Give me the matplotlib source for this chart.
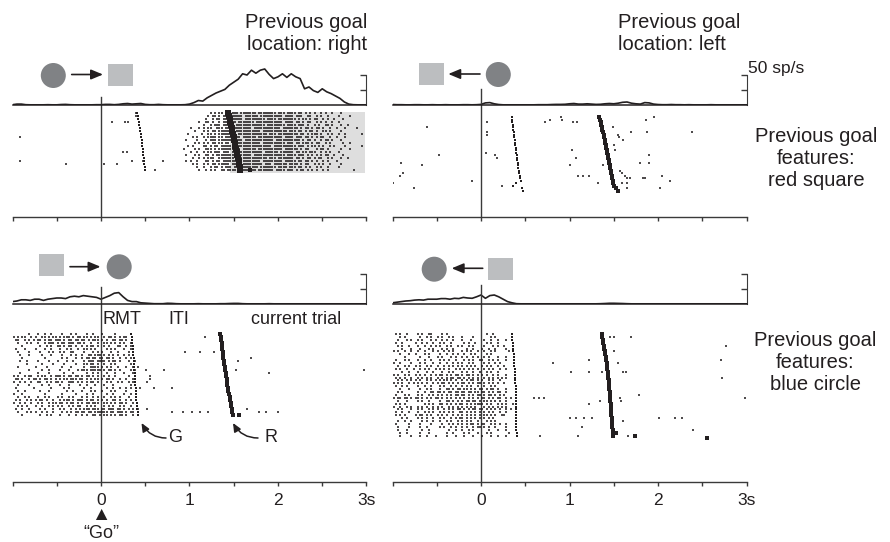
import numpy as np
import matplotlib
matplotlib.use('Agg')
import matplotlib.pyplot as plt
from matplotlib.patches import Circle, Rectangle

plt.rcParams['font.family'] = ['Liberation Sans', 'DejaVu Sans']

INK = '#231f20'
AXC = '#3a3a3a'
DARK = '#808285'
LIGHT = '#bcbec0'
W, H = 890, 542

# ---------------- data ----------------
# PSTH bin centres (s) and firing rates (sp/s)
psth_t = np.linspace(-1.0, 3.0, 81)

tl_rate = [0.5, 1.5, 1.5, 0.5, 0.3, 0.3, 0.3, 0.3, 0.5, 0.3,
           0.3, 0.8, 1.0, 0.5, 0.3, 0.3, 0.3, 0.3, 0.3, 0.5,
           0.5, 1.0, 1.0, 0.5, 1.0, 2.0, 2.5, 1.5, 2.0, 2.5,
           1.0, 0.5, 0.5, 1.0, 0.5, 0.3, 0.3, 0.3, 0.3, 0.5,
           1.5, 4, 7.5, 6.5, 12, 16, 20, 23, 26, 33,
           38, 43, 52, 50, 58, 53, 58, 60, 51, 44,
           47, 52, 46, 52, 47, 44, 27, 30, 24, 21,
           27, 22, 19, 15, 11, 5, 1.5, 0.5, 0.3, 0.3, 0.3]

tr_rate = [0.8, 0.5, 0.5, 0.3, 0.3, 0.5, 0.5, 0.3, 0.3, 0.5,
           0.3, 0.3, 0.5, 0.3, 0.3, 0.3, 0.5, 0.5, 0.3, 0.5,
           1.0, 3.5, 4.0, 2.0, 0.8, 0.3, 0.3, 0.3, 0.3, 0.3,
           0.3, 0.3, 0.3, 0.5, 0.5, 0.5, 0.8, 1.0, 1.0, 1.2,
           2.0, 2.5, 1.5, 1.5, 2.0, 1.5, 1.0, 1.2, 2.0, 2.5,
           2.0, 3.0, 4.5, 5.0, 3.0, 2.0, 1.5, 4.0, 3.5, 1.5,
           0.8, 0.5, 0.5, 0.8, 0.5, 0.5, 0.3, 0.5, 0.3, 0.3,
           0.3, 0.3, 0.5, 0.3, 0.3, 0.3, 0.3, 0.3, 0.3, 0.3, 0.3]

bl_rate = [4, 5, 7, 7, 6, 8, 8, 6, 8, 9,
           10, 10, 9, 12, 13, 12, 14, 13, 12, 11,
           8, 11, 14, 18, 19, 12, 6, 4, 4, 2,
           1.5, 1, 0.5, 0.5, 0.5, 1.2, 1.0, 0.5, 0.3, 0.3,
           0.3, 0.3, 0.5, 0.3, 0.3, 0.3, 0.3, 0.5, 0.5, 0.8,
           1.0, 1.0, 0.5, 0.3, 0.3, 0.3, 0.3, 0.3, 0.5, 0.3,
           0.3, 0.3, 0.3, 0.3, 0.3, 0.3, 0.3, 0.3, 0.3, 0.3,
           0.3, 0.3, 0.3, 0.3, 0.3, 0.3, 0.3, 0.3, 0.3, 0.3, 0.3]

br_rate = [2, 3, 4, 5, 5.5, 6.5, 7, 6.5, 8, 8,
           8, 9, 9, 8, 9.5, 9, 11, 10, 9.5, 12,
           15, 9.5, 14, 15, 12, 8, 4, 2, 0.5, 0.3,
           0.3, 0.3, 0.3, 0.3, 0.3, 0.3, 0.3, 0.3, 0.3, 0.3,
           0.3, 0.3, 0.3, 0.3, 0.3, 0.3, 0.3, 0.5, 0.8, 1.2,
           1.2, 1.0, 0.8, 0.5, 0.3, 0.3, 0.3, 0.3, 0.3, 0.3,
           0.3, 0.3, 0.3, 0.3, 0.3, 0.3, 0.3, 0.3, 0.3, 0.3,
           0.3, 0.3, 0.3, 0.3, 0.3, 0.3, 0.3, 0.3, 0.3, 0.3, 0.3]

# goal (G) and reward (R) times per trial, s
tl_goal = [0.412, 0.416, 0.422, 0.428, 0.434, 0.440, 0.445, 0.451, 0.455, 0.458,
           0.462, 0.467, 0.472, 0.476, 0.479, 0.482, 0.486, 0.489, 0.493, 0.497]
tl_reward = [1.440, 1.447, 1.454, 1.462, 1.470, 1.477, 1.484, 1.491, 1.498, 1.505,
             1.512, 1.519, 1.526, 1.533, 1.540, 1.547, 1.554, 1.561, 1.568, 1.576]
tr_goal = [0.347, 0.350, 0.354, 0.357, 0.361, 0.364, 0.368, 0.372, 0.375, 0.379,
           0.383, 0.387, 0.391, 0.395, 0.399, 0.403, 0.407, 0.411, 0.415, 0.419,
           0.423, 0.428, 0.433, 0.438, 0.443, 0.449, 0.400, 0.365, 0.460, 0.480]
tr_reward = [1.337, 1.345, 1.352, 1.358, 1.365, 1.372, 1.379, 1.385, 1.392, 1.398,
             1.404, 1.410, 1.416, 1.422, 1.428, 1.435, 1.440, 1.445, 1.450, 1.455,
             1.460, 1.465, 1.471, 1.477, 1.484, 1.490, 1.497, 1.508, 1.525, 1.548]
bl_goal = [0.343, 0.347, 0.350, 0.353, 0.356, 0.359, 0.362, 0.365, 0.368, 0.371,
           0.374, 0.376, 0.378, 0.380, 0.382, 0.384, 0.386, 0.388, 0.390, 0.392,
           0.394, 0.397, 0.400, 0.403, 0.406, 0.409, 0.414, 0.420]
bl_reward = [1.350, 1.354, 1.358, 1.362, 1.366, 1.370, 1.374, 1.378, 1.382, 1.386,
             1.391, 1.396, 1.402, 1.408, 1.414, 1.419, 1.424, 1.429, 1.434, 1.438,
             1.445, 1.452, 1.458, 1.464, 1.470, 1.476, 1.483, 1.490]
br_goal = [0.347, 0.351, 0.355, 0.358, 0.361, 0.364, 0.367, 0.369, 0.371, 0.373,
           0.375, 0.377, 0.379, 0.381, 0.382, 0.384, 0.386, 0.388, 0.390, 0.392,
           0.394, 0.395, 0.396, 0.396, 0.396, 0.396, 0.396, 0.396, 0.397, 0.397,
           0.398, 0.398, 0.399, 0.400, 0.402, 0.410]
br_reward = [1.362, 1.369, 1.376, 1.383, 1.390, 1.395, 1.400, 1.405, 1.410, 1.415,
             1.420, 1.424, 1.427, 1.431, 1.434, 1.438, 1.441, 1.444, 1.448, 1.451,
             1.455, 1.458, 1.460, 1.462, 1.464, 1.466, 1.468, 1.470, 1.473, 1.476,
             1.479, 1.482, 1.485, 1.488, 1.490, 1.492]

# dense spike blocks: one row per trial, 25 ms bins, groups of 0.25 s
tl_block_start = 0.9
tl_block = [
    ".......... ...|.|.||. ||.|||.||| ||||.||||| |||.|||.|| ||.||.|.|. |..|.|..|. ..|.......",
    ".......... ..|.||.|.| |.||||||.| |||||.|||| ||||||.||| |.|||..||. .|.|..|... .|....|...",
    ".......... .|..|.||.| ||.|||||.| ||||||||.| |||.|||||| ||.|.||.|. ||..|.|..| ...|......",
    "........|. .||.|..|.| |||||.|||| |||.|||||| ||||||.||| |.||.|.||. .|.|.|..|. .|........",
    ".......... |..|.|||.| ||||.||||| ||||||||.| |||||||.|| ||.|||.|.. |.|..||.|. ..|..|....",
    "....|...|. |.||..|||. |||||||||| ||.||||||| |||||.|||| |||.|.||.| .||.|..|.. |...|....|",
    "......|... |.|.||.||| ||||.||||| ||||||.||| ||||||||.| ||.||.|.|| .|..||.|.. ..|.......",
    "...|.....| ..||.|.||| |||||.|||| |||||||||. |||.|||||| |||.||.|.| ||.|..|.|. .|..|.....",
    ".....|.|.. |.||||.||. |||||||.|| ||||.||||| ||||||.||| |.|||.||.| .|.||..|.. |...|.....",
    "..|....|.. .|.|||.||| ||||||||.| |||||||||| ||.||||||| ||||.|.||. |..|.||.|. ..|.......",
    "......|.|. |.|.||.||. ||.||||||| ||||||.||| |||||||.|| |.||.|||.| .||..|.|.. ...|..|...",
    "...|.|.... ||.|.||.|| |||||.|||| |||||||||| |.|||||||| ||.|||.|.| |.|.|..|.| ....|.....",
    ".|....|.|. .|||.|.||| |||||||.|| ||||.||||| ||||||.||| |||.|.||.. .|.||.|... ..|...|...",
    "....|..|.. |.||.|||.| ||.||||||| |||||||.|| ||||.||||| |.||.||.|| |..|.|.|.. .|........",
    "..|...|.|. .||.|.|||| |||||||||| ||.||||||| |||||||.|| ||.|||.|.| .|.|.||..| ...|......",
    ".....|..|. |.|||..||| ||||.||||| |||||||||. |||.|||||| |.||.|.||. |.||..|.|. ..|..|....",
    "..|.|..|.. .||.|.||.| |||||.|||| ||||||.||| ||||||.||| ||.||.||.| .|..|.|... |.........",
    ".....|.|.. |.|.||.||| ||.||||||| |||||||.|| |.||||||.| |||.|.||.. |.|.|..|.. ..|.......",
    ".......|.. |..|.||.|. |||.|||||| |||||.|||| |||.||||.| ||.||.|.|. .|.|..|... .|........",
    "........|. .|.|.|..|| .||||.|||| ||||.||||| ||.||||.|| |.|.||.|.| .|..|.|... ........|.",
]

bl_block_start = -1.0
bl_block = [
    ".......|.. .|..|..|.. ..|...|.|. ...|..|... |.....|... ..........",
    "|.|.||..|. |..||.|.|| .|.|||.|.| |.||.|.||. .|.||.|.|. ||........",
    ".||..|.|.| .||.|.||.| ||.|.||.|| .||.|.|||. |.|..||.|| .|........",
    "..|...|.|. .|..|.|||. |.||.|||.| |.|..|..|. .||.|.|.|. |..|......",
    "....|..... ..|..|.|.. ||.|.||.|. .|.|.||.|. .|.|...||. .|.|......",
    ".|...|.... |...|..|.. .|..|.|..| ..||.|.|.. ..|.|.|... |..|......",
    "..|....|.. ..|...|.|. .|.|..||.. ..|...|.|. |...|..|.. ..|.......",
    "...|...|.. ...|...|.. ..|...|.|. .|..||.||| .|.|.|.|.. |.|.......",
    "....|..... ....|..... ..|.|...|. .|.||.||.| |.||.|..|. .|.|......",
    "...|..|... .|....|... |...|..|.. ..|.|||.|| ||.|.||.|. ..|..|....",
    "......|... ...|....|. ...|....|. ..||.||.|. .|..|.|... ...|......",
    "..|....... |....|.... ..|...|... ..|..||||. |.|.|..|.. .|..|.|...",
    ".......|.. ...|..|... .|...|...| .|||.||||| .|.||.|.|. ...|.|....",
    "...|...... .|....|... ...|...|.. ...|..|.|. ..|...|... |...|.....",
    "|.|..|.||. .|.||..|.| ||.|.||.|| .|.||.|.|. .|.|..|... ..|.......",
    ".||.|..|.| |.|.||.|.| .|.||.|||. ||.|.|.||. |.||.|..|. .|..|.....",
    "|..|.|..|. .||..|.|.| |.|..|||.| .|.|.||.|. ..|.|..|.| ..|.|.....",
    "..|....|.. ...|..|... .|...|.... |..|...|.. .|...|.... ...|......",
    ".|.......| .......|.. ...|.|.... ..|..|.... ..|..|..|. .|.|...|..",
    "..|..|.... ..|...|... ....|..|.. .|...|.|.. |...|.|... .|........",
    "|...|..... ....|..... ..|.....|. ...|..|... ..|..|.... |..|......",
    "..|..|.|.. .|..|.|... |.|..|.|.. .|.|..|.|. .|..|.|.|. ..|.......",
    ".|.|..|.|. |.||.|..|. .|.|||.|.| ||.|.||.|. |.|..||.|. .|.|......",
    "|..|.|..|. .|.|..|.|| .||.|.||.| .|.||.|||. .||.|.|.|| .|..|.....",
    "..|.|.|... |..|..|.|. |.|..|.|.| |..|.|.|.. .|.|.|..|. |..|......",
    ".|..|..|.. ..|.|...|. .|.|..|.|. |.|||.|||. ||.|||.||. |.|.|.|...",
    "..|...|.|. |..|.|..|. ..|.|.|.|| .||.||.||| |||.||.||| .|.||.|...",
    "....|..... ..|..|.|.. .|...|..|. .|.|..||.| .||.|.|.|| .|..|.|...",
]

br_block_start = -1.0
br_block = [
    ".|.|..|... .|.|..||.. ..|.|..... .......... ..|..|.... ..........",
    "...|.|.... ..|..|.|.. |.|..|.|.. .|....|... ....|.|... ..........",
    "..|...|.|. .|.|...|.| ..|.|..|.. .|...|.... .|..|..|.. .|........",
    ".|..|..... |..|.|..|. .|.|..|... ..|.|..|.. ..|.|..|.. ..........",
    "..|.|..|.. .|..|..|.| .|..|.|..| .|..|.|... .|...|.|.. |.........",
    "....|...|. ..|...|.|. ..|.|..|.. ...|..|... |..|..|... .|........",
    "|.|..|..|. .|..|...|. |..|.|.|.. .|.|.|..|. .|..|.|... ..|.......",
    "...|...|.. |...|.|... .|..|..|.| ..|..|.|.. ..|.|..... ..........",
    ".....|.... ..|...|... |.|...|.|. .|.|..|.|. .|.|...|.. .|........",
    ".|...|.|.. .|..|..|.. .|.|.|..|. ..|.|.|..| |..|.|.|.. .|........",
    "|..|....|. ..|.|...|. .|..|..|.| .|..|.|... .|.|..|.|. ..........",
    "..|..|.|.. |.|..|.|.. |..|.|.|.| .|.|.|.|.. |.|.|..|.. |.........",
    ".|.|..|..| ..|.|.|..| .|.|.|..|. |.|.|.|.|. .|.|.|..|. .|........",
    "....|..|.. .|...|..|. ..|..|.|.. .|.|..|..| ..|.|..|.. ..........",
    "|.|..|.|.. |.|.|..|.| .||.|.|.|| .|.||.|.|. |.|..|.|.. .|........",
    ".|.|.|..|. .|.|.|.|.. |.|.|.||.| |.|.|.|.|. .|.|.|.|.| .|........",
    "..|.|.|.|. |.|..|.|.| .|.||.|.|. .|.|.||.|. |..|.|..|. ..........",
    "|.|.|..|.| .|.|.|..|. |.||.|.|.| .||.|.|.|| .|.|.|.|.. |.........",
    ".|..|.|... .|..|..|.. .|.|..|.|. .|.|.|..|. .|..|.|... ..........",
    "...|...|.. ..|..|.|.. .|..||.|.| |.||.|.|.| |.|.||.|.. .|........",
    "..|.|..... .|..|..||. ||.|.||.|| .||.||.||. ||.|.|.||. .|........",
    ".|...|.|.. .|.|..|.|. |.|.|.|.|| .||.|.|.|| .|.||.|.|. |.........",
    "|.||.||.|. ||.|.|.|.| |.|.|.|.|. |.|.|.|.|. ||.|.|.||. .|.|......",
    "..|...|... .|.|..|... .|..||.|.| .|.||.||.| .||.|.|.|. .|........",
    ".|.|.|.... ....|.|.|. .||.|.|.|. ||.|.|.||| |.|.|..|.| .|..|.....",
    "|..|..|.|. .|.|.|..|. |.|..|.|.| .|.|.|.|.. .|.|.|.|.| .|........",
    "..|.|...|. .|.|..|.|. |..|.|.|.| |.|.|.||.| |.|.|.|.|. .|.|......",
    ".|..|..|.. .|..|.|.|. .|.|.|.|.. ||.|.|.|.| .|.|.|..|. .|........",
    ".|.|.|.... |.||.|.|.. |.|.|..|.| .|.|.|.|.| .||.|.|..| |.........",
    "....|.|... .|.|.|..|. .|.|..|.|. ||.|.|.|.| .|.|.|.... ..........",
    "..|..|..|. ...|.|..|. .|..|.|..| .|.|.|..|. ..|.|.|... ..........",
    ".|.....|.. ..|....|.. ..|..|.|.| .|.|.||.|. ||..|.|.|. .|........",
    "..|....|.. ..|..|.... .|.|..|.|. .|.|..|.|| .|.|..|... .|........",
    "..|...|... ...|..|... .....|..|. .|..|.|... ...|...|.. .|........",
    "...|..|... ..|...|... ....|..|.. ..|.|...|. ..|.|..... ..|.......",
    "...|....|. ..|..|...| ....|...|. ..|...|... |...|..|.. .|........",
]

# isolated spikes (trial, time s)
tl_extra = [(8, -0.92), (16, -0.91), (17, -0.39), (17, 0.03), (17, 0.18), (3, 0.12),
            (3, 0.27), (3, 0.30), (13, 0.245), (13, 0.29), (16, 0.35), (16, 0.48),
            (19, 0.61), (16, 0.70), (1, 0.39), (0, 0.40), (7, 2.95), (11, 2.95)]
tr_extra = [(4, -0.61), (15, -0.48), (19, -0.67), (18, -0.90), (22, -0.885), (23, -0.915),
            (26, -0.995), (28, -0.76), (25, -0.105), (2, 0.064), (6, 0.07), (7, 0.07),
            (14, 0.056), (15, 0.158), (16, 0.177), (27, 0.233), (2, 0.723), (1, 0.78),
            (0, 0.90), (1, 0.92), (2, 1.036), (2, 1.081), (13, 1.025), (16, 1.073),
            (19, 1.006), (23, 1.10), (23, 1.156), (23, 1.22), (26, 1.326), (19, 1.38),
            (4, 1.488), (7, 1.55), (8, 1.56), (9, 1.60), (6, 1.69), (11, 1.50), (13, 1.51),
            (21, 1.57), (22, 1.59), (23, 1.63), (24, 1.65), (26, 1.59), (26, 1.65),
            (24, 1.68), (28, 1.65), (24, 1.83), (24, 1.85), (1, 1.87), (0, 1.95),
            (6, 1.88), (15, 1.90), (18, 1.80), (18, 1.90), (23, 2.04), (25, 2.13),
            (28, 2.02), (6, 2.38)]
bl_extra = [(1, 1.175), (6, 0.95), (6, 1.12), (6, 1.28), (9, 1.55), (8, 1.69), (12, 0.71),
            (12, 1.53), (13, 1.90), (12, 2.97), (18, 0.60), (18, 0.80), (16, 0.52),
            (25, 0.52), (26, 0.80), (26, 0.93), (26, 1.03), (26, 1.12), (26, 1.21),
            (25, 1.65), (26, 1.78), (26, 1.87), (26, 2.0), (12, 0.51), (14, 0.55), (15, 0.55)]
br_extra = [(1, 1.458), (1, 1.503), (1, 1.69), (6, 1.503), (4, 2.77), (10, 0.817), (9, 1.22),
            (10, 1.55), (9, 2.71), (13, 1.013), (13, 1.22), (13, 1.37), (13, 1.60), (13, 1.64),
            (15, 2.72), (22, 0.60), (22, 0.66), (22, 0.71), (24, 1.22), (23, 1.35), (22, 1.57),
            (23, 1.58), (21, 1.78), (22, 2.98), (29, 1.0), (29, 1.07), (29, 1.16), (29, 1.25),
            (30, 1.61), (29, 2.01), (29, 2.19), (29, 2.27), (32, 1.14), (33, 2.39),
            (35, 0.667), (35, 1.10), (35, 1.66)]
tl_big = [(19, 1.68)]
tr_big = []
bl_big = [(27, 1.56)]
br_big = [(34, 1.525), (35, 1.74), (36, 2.55)]

tl_shade = (1.46, 2.98)
tick_times = [-1, -0.5, 0, 0.5, 1, 1.5, 2, 2.5, 3]
tick_labels = ['', '', '0', '', '1', '', '2', '', '3s']


def block_spikes(rows, start):
    ts, ys = [], []
    for i, row in enumerate(rows):
        for g, grp in enumerate(row.split()):
            for j, c in enumerate(grp):
                if c == '|':
                    ts.append(start + 0.25 * g + 0.025 * j + 0.0125)
                    ys.append(i)
    return ts, ys


def box(x0, y0, x1, y1):
    return [x0 / W, 1 - y1 / H, (x1 - x0) / W, (y1 - y0) / H]


fig = plt.figure(figsize=(W / 100, H / 100), dpi=100)

# layout in pixels: left edge, PSTH baseline, raster axis, first-trial row, row step, top of t=0 line
panels = [
    dict(x0=12.5, base=105, axis=217, y0=113, dy=3.0, vtop=97, rate=tl_rate,
         block=tl_block, bstart=tl_block_start, extra=tl_extra, big=tl_big,
         goal=tl_goal, reward=tl_reward, rsize=4.0, labels=False),
    dict(x0=392.5, base=105, axis=217, y0=117, dy=2.55, vtop=89, rate=tr_rate,
         block=[], bstart=0, extra=tr_extra, big=tr_big,
         goal=tr_goal, reward=tr_reward, rsize=3.2, labels=False),
    dict(x0=12.5, base=304, axis=482, y0=334, dy=3.0, vtop=287, rate=bl_rate,
         block=bl_block, bstart=bl_block_start, extra=bl_extra, big=bl_big,
         goal=bl_goal, reward=bl_reward, rsize=3.2, labels=True),
    dict(x0=392.5, base=304, axis=482, y0=334, dy=2.9, vtop=285, rate=br_rate,
         block=br_block, bstart=br_block_start, extra=br_extra, big=br_big,
         goal=br_goal, reward=br_reward, rsize=3.2, labels=True),
]

for k, p in enumerate(panels):
    x1 = p['x0'] + 354
    # raster
    ax = fig.add_axes(box(p['x0'], p['base'], x1, p['axis']))
    ax.set_facecolor('none')
    ax.set_xlim(-1, 3)
    ax.set_ylim((p['axis'] - p['y0']) / p['dy'], (p['base'] - p['y0']) / p['dy'])
    for s in ['left', 'right', 'top']:
        ax.spines[s].set_visible(False)
    ax.spines['bottom'].set_color(AXC)
    ax.spines['bottom'].set_linewidth(1.0)
    ax.set_yticks([])
    ax.set_xticks(tick_times)
    ax.set_xticklabels(tick_labels if p['labels'] else [''] * len(tick_times))
    ax.tick_params(axis='x', direction='out', length=3, width=1.0, color=AXC,
                   labelsize=12.5, pad=5, labelcolor=INK)
    ax.axvline(0, color=AXC, lw=1.0, zorder=1)
    if k == 0:
        ntr = len(p['goal'])
        ax.add_patch(Rectangle((tl_shade[0], -0.35), tl_shade[1] - tl_shade[0], ntr + 0.3,
                               facecolor='#dedede', edgecolor='none', zorder=0))
    ts, ys = block_spikes(p['block'], p['bstart'])
    ts += [t for _, t in p['extra']]
    ys += [r for r, _ in p['extra']]
    ax.plot(ts, ys, ls='none', marker='|', ms=2.0, mew=1.15, color=INK, zorder=3)
    ax.plot(p['goal'], range(len(p['goal'])), ls='none', marker='s', ms=1.8, mew=0,
            color=INK, zorder=4)
    ax.plot(p['reward'], range(len(p['reward'])), ls='none', marker='s', ms=p['rsize'],
            mew=0, color=INK, zorder=4)
    if p['big']:
        ax.plot([t for _, t in p['big']], [r for r, _ in p['big']], ls='none', marker='s',
                ms=2.8, mew=0, color=INK, zorder=4)

    # PSTH
    axp = fig.add_axes(box(p['x0'], p['base'] - 42, x1, p['base']))
    axp.set_facecolor('none')
    axp.set_xlim(-1, 3)
    axp.set_ylim(0, 70)
    axp.plot(psth_t, p['rate'], color=INK, lw=1.2)
    axp.spines['left'].set_visible(False)
    axp.spines['top'].set_visible(False)
    axp.spines['bottom'].set_color(INK)
    axp.spines['bottom'].set_linewidth(1.1)
    axp.spines['right'].set_bounds(0, 50)
    axp.spines['right'].set_color(AXC)
    axp.set_xticks([])
    axp.yaxis.tick_right()
    axp.set_yticks([25, 50])
    axp.tick_params(axis='y', direction='in', length=4, width=1.0, color=AXC,
                    labelright=False)
    axp.axvline(0, ymin=0, ymax=(p['base'] - p['vtop']) / 42, color=AXC, lw=1.0)

# overlay in pixel coordinates for labels and icons
ov = fig.add_axes([0, 0, 1, 1])
ov.set_xlim(0, W)
ov.set_ylim(H, 0)
ov.axis('off')
ov.set_facecolor('none')

ov.text(367, 13, 'Previous goal\nlocation: right', ha='right', va='top', fontsize=14.5,
        color=INK, linespacing=1.2)
ov.text(618, 13, 'Previous goal\nlocation: left', ha='left', va='top', fontsize=14.5,
        color=INK, linespacing=1.2)
ov.text(748, 69, '50 sp/s', ha='left', va='center', fontsize=12.5, color=INK)
ov.text(816, 159, 'Previous goal\nfeatures:\nred square', ha='center', va='center',
        fontsize=14.5, color=INK, linespacing=1.2)
ov.text(815, 362, 'Previous goal\nfeatures:\nblue circle', ha='center', va='center',
        fontsize=14.5, color=INK, linespacing=1.2)

ov.text(103, 320, 'RMT', ha='left', va='center', fontsize=13, color=INK)
ov.text(168, 320, 'ITI', ha='left', va='center', fontsize=13, color=INK)
ov.text(251, 320, 'current trial', ha='left', va='center', fontsize=13, color=INK)
ov.text(168, 437, 'G', ha='left', va='center', fontsize=13, color=INK)
ov.text(265, 437, 'R', ha='left', va='center', fontsize=13, color=INK)
ov.text(101, 515, '▲', ha='center', va='center', fontsize=14, color=INK)
ov.text(101, 533, '“Go”', ha='center', va='center', fontsize=13, color=INK)

curve = dict(arrowstyle='-|>,head_length=0.5,head_width=0.22', color=INK, lw=1.1,
             mutation_scale=10, shrinkA=0, shrinkB=0,
             connectionstyle='angle3,angleA=0,angleB=120')
ov.annotate('', xy=(141.5, 423), xytext=(166, 438), arrowprops=curve)
ov.annotate('', xy=(233, 423), xytext=(258, 438), arrowprops=curve)

# icons: (circle centre, square corner, arrow tail -> head)
straight = dict(arrowstyle='-|>,head_length=0.6,head_width=0.25', color=INK, lw=1.2,
                mutation_scale=12, shrinkA=0, shrinkB=0)
icons = [
    ((53.3, 75.5), (107.7, 64), (71.7, 74.5), (103, 74.5)),
    ((498.3, 74.5), (419.3, 63), (480, 74), (448.3, 74)),
    ((119.2, 266.8), (39, 254.3), (70, 266.7), (100.5, 266.7)),
    ((434.2, 269.2), (488.3, 258.3), (482.7, 268.3), (451.7, 268.3)),
]
for c, sq, tail, head in icons:
    ov.add_patch(Circle(c, 12.5, facecolor=DARK, edgecolor='none'))
    ov.add_patch(Rectangle(sq, 25, 22, facecolor=LIGHT, edgecolor='none'))
    ov.annotate('', xy=head, xytext=tail, arrowprops=straight)

fig.savefig('out.png', dpi=100)
